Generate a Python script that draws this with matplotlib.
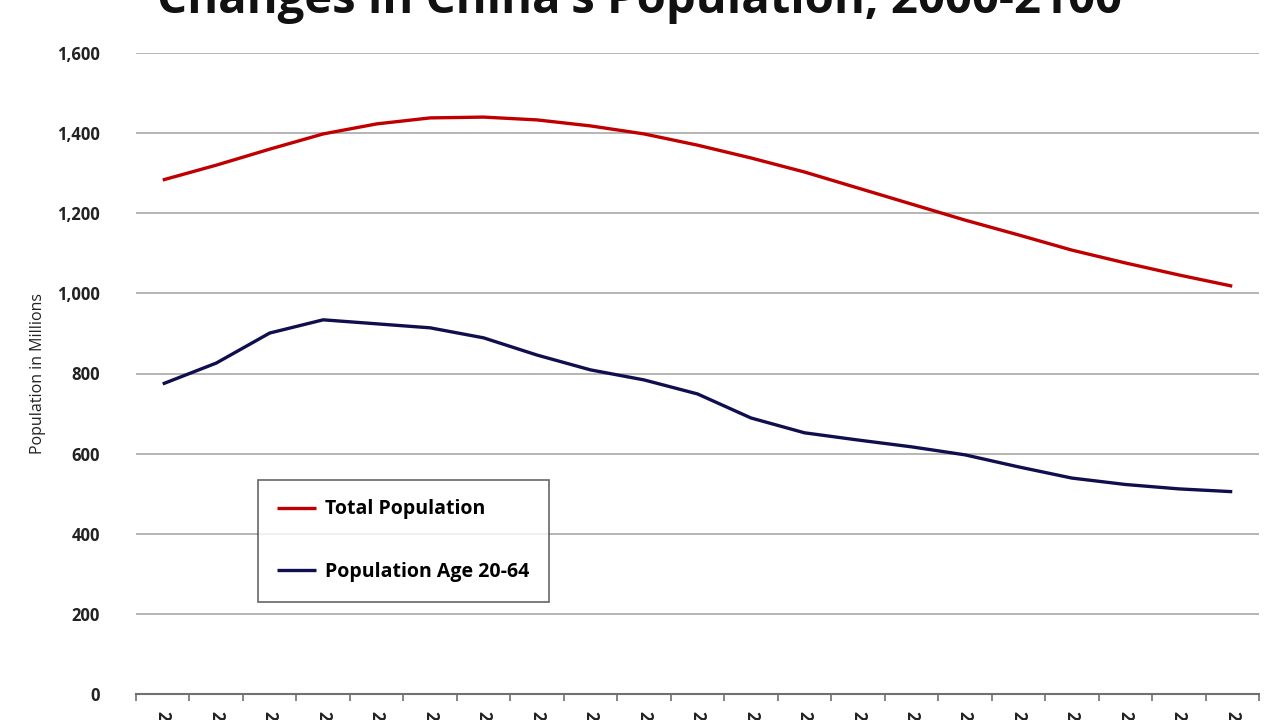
import numpy as np
import matplotlib
matplotlib.use("Agg")
import matplotlib.pyplot as plt

years = [str(y) for y in range(2000, 2101, 5)]
total_pop = [1283, 1320, 1360, 1398, 1423, 1438, 1440, 1433, 1418, 1398, 1370,
             1338, 1303, 1263, 1223, 1183, 1146, 1108, 1076, 1046, 1018]
working_pop = [774, 826, 901, 934, 924, 914, 889, 846, 809, 784, 749,
               689, 652, 634, 617, 597, 567, 539, 523, 512, 505]

plt.rcParams['font.family'] = ['Open Sans', 'DejaVu Sans']

fig = plt.figure(figsize=(12.79, 7.2), dpi=100)
ax = fig.add_axes([136 / 1279, 1 - 694 / 720, (1259 - 136) / 1279, (694 - 53) / 720])

x = np.arange(len(years))
ax.plot(x, total_pop, color='#C00000', lw=2.4, label='Total Population', solid_capstyle='butt')
ax.plot(x, working_pop, color='#0F0F4F', lw=2.4, label='Population Age 20-64', solid_capstyle='butt')

ax.set_xlim(-0.5, len(years) - 0.5)
ax.set_ylim(0, 1600)
ax.set_yticks(range(0, 1601, 200))
ax.set_yticklabels([f"{v:,}" for v in range(0, 1601, 200)], fontsize=12, fontweight='bold', color='#222222')
ax.yaxis.grid(True, color='#B0B0B0', lw=1.3)
ax.set_axisbelow(True)
ax.tick_params(axis='y', length=0, pad=26)

# year labels are cut off at the bottom edge, as in the source image
ax.set_xticks(x)
ax.set_xticklabels(years, rotation=270, fontsize=12, fontweight='bold', color='#222222')
ax.set_xticks(np.arange(-0.5, len(years)), minor=True)
ax.tick_params(axis='x', which='major', length=0, pad=12)
ax.tick_params(axis='x', which='minor', length=5, width=1.2, color='#707070')

for side in ['top', 'right', 'left']:
    ax.spines[side].set_visible(False)
ax.spines['bottom'].set_color('#707070')
ax.spines['bottom'].set_linewidth(1.5)

ax.set_ylabel('Population in Millions', fontsize=11.5, color='#222222', labelpad=8)

leg = ax.legend(loc='upper left', bbox_to_anchor=(122 / 1123, 1 - (480 - 53) / 641),
                prop={'weight': 'bold', 'size': 14}, frameon=True, fancybox=False,
                borderpad=1.0, labelspacing=2.2, handlelength=2.0, handletextpad=0.45,
                borderaxespad=0)
leg.get_frame().set_edgecolor('#404040')
leg.get_frame().set_linewidth(1.2)

fig.text(0.5, 1 - 13 / 720, "Changes in China's Population, 2000-2100", ha='center', va='baseline',
         fontsize=34, fontweight='bold', color='#111111')

fig.savefig('out.png', dpi=100)
